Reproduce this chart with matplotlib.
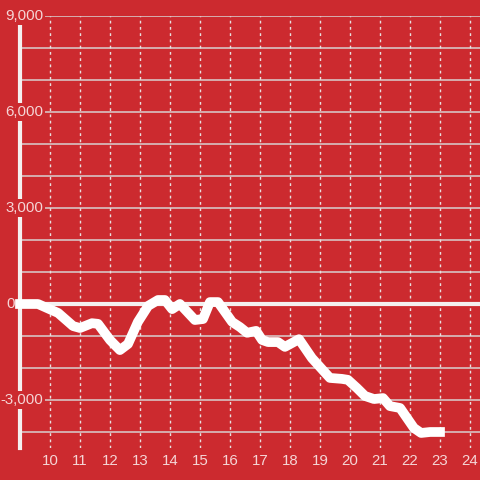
import matplotlib.pyplot as plt
import numpy as np

hours = [9.0, 9.6, 10.27, 10.77, 11.0, 11.4, 11.6, 12.0, 12.33, 12.6, 12.93, 13.27, 13.6, 13.83,
         14.07, 14.33, 14.83, 15.1, 15.33, 15.6, 16.07, 16.33, 16.57, 16.87, 17.07, 17.27, 17.6,
         17.83, 18.3, 18.73, 19.33, 19.73, 19.93, 20.23, 20.5, 20.8, 21.1, 21.33, 21.67, 22.13,
         22.37, 22.67, 23.0]
values = [0, 0, -280, -690, -750, -600, -620, -1125, -1440, -1250, -560, -60, 125, 125,
          -160, 0, -500, -470, 60, 60, -560, -720, -900, -840, -1125, -1190, -1190,
          -1340, -1100, -1690, -2310, -2340, -2370, -2625, -2875, -2970, -2940, -3190, -3250, -3875,
          -4030, -4000, -4000]

x_ticks = list(range(10, 25))
y_major = [9000, 6000, 3000, 0, -3000]
y_labels = ['9,000', '6,000', '3,000', '0', '-3,000']
y_minor = list(range(-4000, 10000, 1000))

bg = '#cc2a2f'
txt = '#f5d5d6'
plt.rcParams['font.family'] = ['Liberation Sans', 'DejaVu Sans']

fig = plt.figure(figsize=(4.8, 4.8), dpi=100, facecolor=bg)
ax = fig.add_axes([20 / 480, 32 / 480, 460 / 480, 432 / 480])
ax.set_facecolor(bg)
ax.set_xlim(9.0, 9.0 + 460 / 30)
ax.set_ylim(-4500, 9000)

for s in ['top', 'right', 'bottom', 'left']:
    ax.spines[s].set_visible(False)

for v in y_minor:
    ax.axhline(v, color='#d9d0d0', lw=1.1, zorder=1)
for h in x_ticks:
    ax.axvline(h, color='#e8e0e0', lw=1.0, ls=(0, (2, 2.5)), zorder=1)

# y axis line and zero line
ax.plot([9.0, 9.0], [-4500, 9000], color='#f4f0f0', lw=3, zorder=3, clip_on=False)
ax.plot([9.0, 9.0 + 460 / 30], [0, 0], color='#f4f0f0', lw=3, zorder=3,
        solid_capstyle='projecting', clip_on=False)

ax.plot(hours, values, color='white', lw=7, zorder=4, solid_capstyle='projecting',
        solid_joinstyle='round', clip_on=False)

ax.set_xticks([])
ax.set_yticks([])
for h in x_ticks:
    ax.text(h, -4900, str(h), color=txt, fontsize=10.8, ha='center', va='center', clip_on=False)
for v, lab in zip(y_major, y_labels):
    if v == 0:
        ax.text(9.0 - 5 / 30, v, lab, color=txt, fontsize=10.8, ha='right', va='center',
                clip_on=False, zorder=2)
    else:
        ax.text(9.0 + 23 / 30, v, lab, color=txt, fontsize=10.8, ha='right', va='center',
                clip_on=False, zorder=6, bbox=dict(facecolor=bg, edgecolor='none', pad=1.5))

fig.savefig('out.png', dpi=100, facecolor=bg)
